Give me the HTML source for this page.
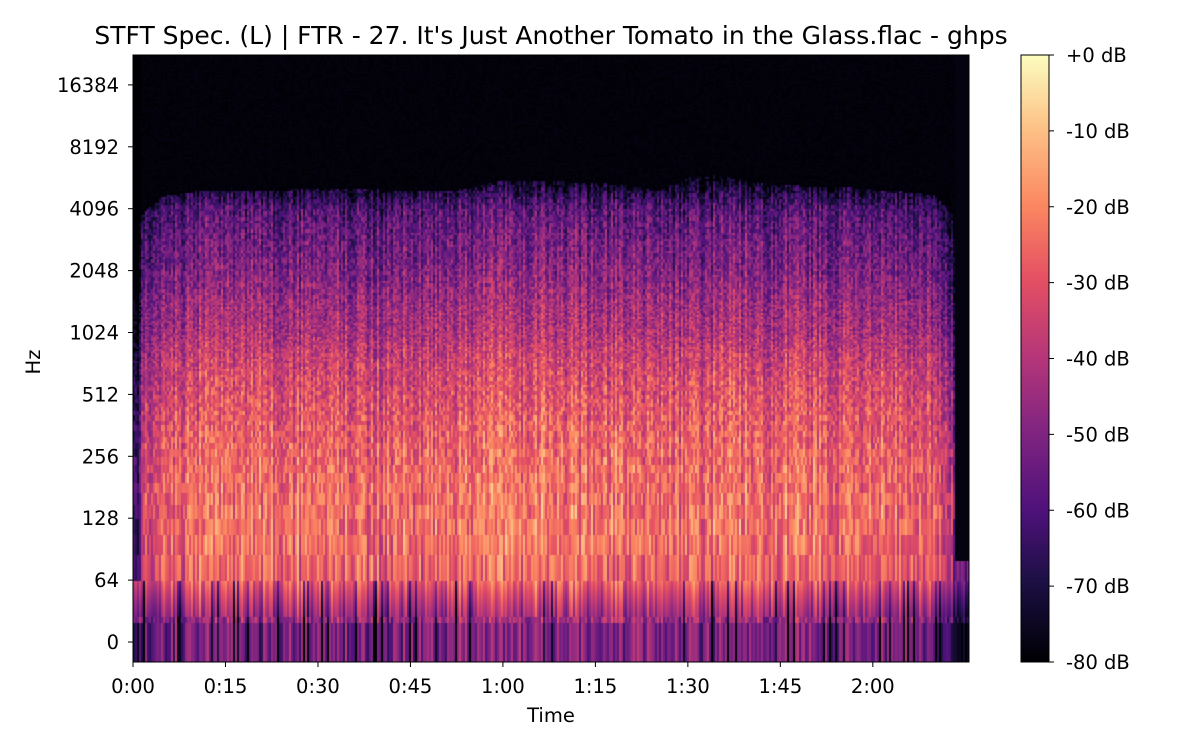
<!DOCTYPE html>
<html><head><meta charset="utf-8"><style>
body{margin:0;background:#fff;font-family:"Liberation Sans","DejaVu Sans",sans-serif;}
#wrap{position:relative;width:1200px;height:750px;overflow:hidden;}
svg text{font-family:"DejaVu Sans","Liberation Sans",sans-serif;fill:#000;}
</style></head><body>
<div id="wrap">
<canvas id="spec" width="836" height="607" style="position:absolute;left:133px;top:55px"></canvas>
<canvas id="cbar" width="28" height="607" style="position:absolute;left:1021px;top:55px"></canvas>
<svg id="ov" width="1200" height="750" style="position:absolute;left:0;top:0"></svg>
</div>
<script>
// frequency profile (Hz band lower edge -> typical level dB)
const bandHz=[0,21,43,64,100,128,200,256,400,512,800,1024,2048,4096,5600,8000,22050];
const bandDb=[-54,-48,-44,-27,-24,-24,-25,-26,-29,-31,-36,-41,-50,-59,-78,-80,-80];
// loudness envelope per 5 s
const envSec=[0,5,10,15,20,25,30,35,40,45,50,55,60,65,70,75,80,85,90,95,100,105,110,115,120,125,130,135];
const envDb=[-12,-3,0,0,0,-1,0,-1,-2,0,0,1,2,2,1,0,1,-1,-2,0,1,0,0,-1,0,-1,-4,-30];
// upper spectral cutoff per 5 s (Hz)
const cutHz=[3500,4800,5000,5100,5100,5100,5200,5200,5100,5000,5000,5200,5700,5700,5600,5500,5400,5000,5900,6000,5600,5400,5300,5300,5100,5000,4800,3000];
const yTicks=[0,64,128,256,512,1024,2048,4096,8192,16384];
const xTickSec=[0,15,30,45,60,75,90,105,120];
const xTickLbl=["0:00","0:15","0:30","0:45","1:00","1:15","1:30","1:45","2:00"];
const cbTicks=[0,-10,-20,-30,-40,-50,-60,-70,-80];

const X0=133,X1=969,Y0=55,Y1=662,TMAX=135.6;
function xOf(s){return X0+(s/TMAX)*(X1-X0);}
function yOf(h){const hh=Math.max(h,32);return 642-61.9*Math.log2(hh/32);}
function hzOfY(y){return 32*Math.pow(2,(642-y)/61.9);}
function interp(xs,ys,v){if(v<=xs[0])return ys[0];for(let i=1;i<xs.length;i++){if(v<=xs[i]){const t=(v-xs[i-1])/(xs[i]-xs[i-1]);return ys[i-1]+t*(ys[i]-ys[i-1]);}}return ys[ys.length-1];}
const stops=[[0,0,0,4],[.13,28,16,68],[.25,79,18,123],[.38,129,37,129],[.5,181,54,122],[.63,229,80,100],[.75,251,135,97],[.88,254,194,135],[1,252,253,191]];
function magma(v){v=Math.max(0,Math.min(1,v));for(let i=1;i<stops.length;i++){if(v<=stops[i][0]){const a=stops[i-1],b=stops[i],t=(v-a[0])/(b[0]-a[0]);return [a[1]+t*(b[1]-a[1]),a[2]+t*(b[2]-a[2]),a[3]+t*(b[3]-a[3])];}}return [252,253,191];}
function hsh(a,b){let h=(a*374761393+b*668265263)|0;h=(h^(h>>>13))*1274126177|0;return ((h^(h>>>16))>>>0)/4294967296;}

const c=document.getElementById('spec'),ctx=c.getContext('2d');
const img=ctx.createImageData(836,607);
for(let px=0;px<836;px+=2){
  const sec=(px/836)*TMAX;
  const env=interp(envSec,envDb,sec), cut=interp(envSec,cutHz,sec);
  const col=(hsh(px,7)-0.5)*16;
  for(let py=0;py<607;py+=2){
    const y=py+Y0, hz=(y>622)?10:hzOfY(y);
    const bin=hz<1500?Math.floor(hz/21.5):Math.floor(py/3)+1000;
    let db=interp(bandHz,bandDb,hz)+env+col+(hsh(px>>1,bin)-0.5)*18;
    if(hz<64 && hsh(px,3)<0.12) db-=25;
    if(hz>cut) db=-80+hsh(px,py)*2;
    if(px<8 && hz>64) db-=25;
    if(sec>133.2 && hz>80) db=-78;
    const [r,g,b]=magma((db+80)/80);
    for(let dx=0;dx<2;dx++)for(let dy=0;dy<2;dy++){const i=((py+dy)*836+px+dx)*4;img.data[i]=r;img.data[i+1]=g;img.data[i+2]=b;img.data[i+3]=255;}
  }
}
ctx.putImageData(img,0,0);
const cb=document.getElementById('cbar').getContext('2d');
for(let y=0;y<607;y++){const [r,g,b]=magma(1-y/606);cb.fillStyle=`rgb(${r|0},${g|0},${b|0})`;cb.fillRect(0,y,28,1);}

const svg=document.getElementById('ov'),NS='http://www.w3.org/2000/svg';
function el(t,a,txt){const e=document.createElementNS(NS,t);for(const k in a)e.setAttribute(k,a[k]);if(txt!==undefined)e.textContent=txt;svg.appendChild(e);return e;}
let e=el('rect',{x:X0,y:Y0,width:X1-X0,height:Y1-Y0,fill:'none',stroke:'#000','stroke-width':1});

e=el('rect',{x:1021,y:55,width:28,height:607,fill:'none',stroke:'#000','stroke-width':1});

yTicks.forEach(h=>{const y=yOf(h);el('line',{x1:X0-5,x2:X0,y1:y,y2:y,stroke:'#000'});
  const t=el('text',{x:X0-14,y:y+7,'text-anchor':'end','font-size':19.5},String(h));
  });
xTickSec.forEach((s,i)=>{const x=xOf(s);el('line',{x1:x,x2:x,y1:Y1,y2:Y1+5,stroke:'#000'});
  const t=el('text',{x:x,y:Y1+31,'text-anchor':'middle','font-size':19.5},xTickLbl[i]);
  });
cbTicks.forEach(d=>{const y=55+(-d/80)*607;el('line',{x1:1049,x2:1054,y1:y,y2:y,stroke:'#000'});
  const t=el('text',{x:1066,y:y+7,'font-size':19.5},(d===0?'+0':d)+' dB');
  });
e=el('text',{x:551,y:44,'text-anchor':'middle','font-size':25},"STFT Spec. (L) | FTR - 27. It's Just Another Tomato in the Glass.flac - ghps");

e=el('text',{x:551,y:722,'text-anchor':'middle','font-size':19.5},'Time');

e=el('text',{x:40,y:362,'text-anchor':'middle','font-size':19.5,transform:'rotate(-90 40 362)'},'Hz');

</script>
</body></html>
